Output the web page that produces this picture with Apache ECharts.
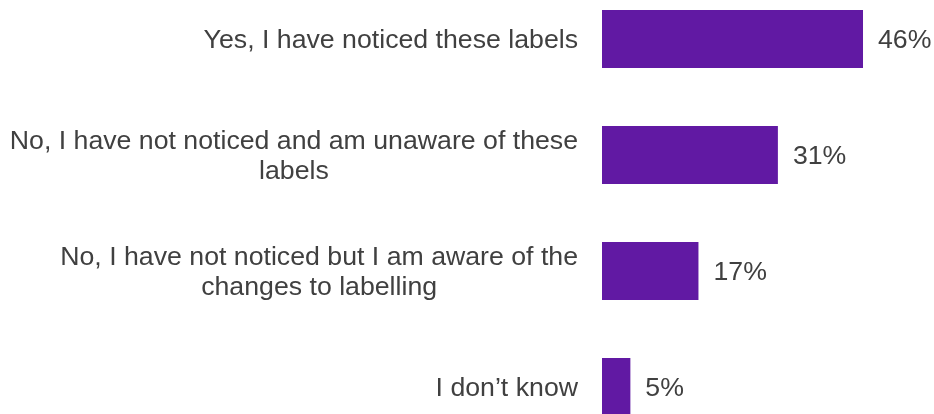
<!DOCTYPE html>
<html>
<head>
<meta charset="utf-8">
<script src="https://cdn.jsdelivr.net/npm/echarts@6/dist/echarts.min.js"></script>
<style>
  html, body { margin: 0; padding: 0; background: #ffffff; }
  #chart { width: 934px; height: 414px; }
</style>
</head>
<body>
<div id="chart"></div>
<script>
// Survey answers, top to bottom
const categories = [
  'Yes, I have noticed these labels',
  'No, I have not noticed and am unaware of these\nlabels',
  'No, I have not noticed but I am aware of the\nchanges to labelling',
  'I don\u2019t know'
];
// Share of respondents (%)
const values = [46, 31, 17, 5];

const textColor = '#404040';
const barColor = '#6119a3';
const fontFamily = '"Liberation Sans", Arial, sans-serif';

const chart = echarts.init(document.getElementById('chart'));
chart.setOption({
  animation: false,
  backgroundColor: '#ffffff',
  grid: {
    left: 602, top: -19, width: 283.7, height: 464,
    containLabel: false, outerBoundsMode: 'none'
  },
  xAxis: {
    type: 'value', min: 0, max: 50, show: false
  },
  yAxis: {
    type: 'category',
    data: categories,
    inverse: true,
    axisLine: { show: false },
    axisTick: { show: false },
    axisLabel: {
      margin: 24,
      padding: [4, 0, 0, 0],
      formatter: function (v) {
        return v.split('\n').map(function (l) { return '{c|' + l + '}'; }).join('\n');
      },
      rich: {
        c: {
          align: 'center',
          color: textColor,
          fontFamily: fontFamily,
          fontSize: 26.7,
          lineHeight: 30
        }
      }
    }
  },
  series: [{
    type: 'bar',
    data: values,
    barWidth: 58,
    itemStyle: { color: barColor },
    label: {
      show: true,
      position: 'right',
      distance: 15,
      offset: [0, 2],
      formatter: '{c}%',
      color: textColor,
      fontFamily: fontFamily,
      fontSize: 26.7
    }
  }]
});
</script>
</body>
</html>
